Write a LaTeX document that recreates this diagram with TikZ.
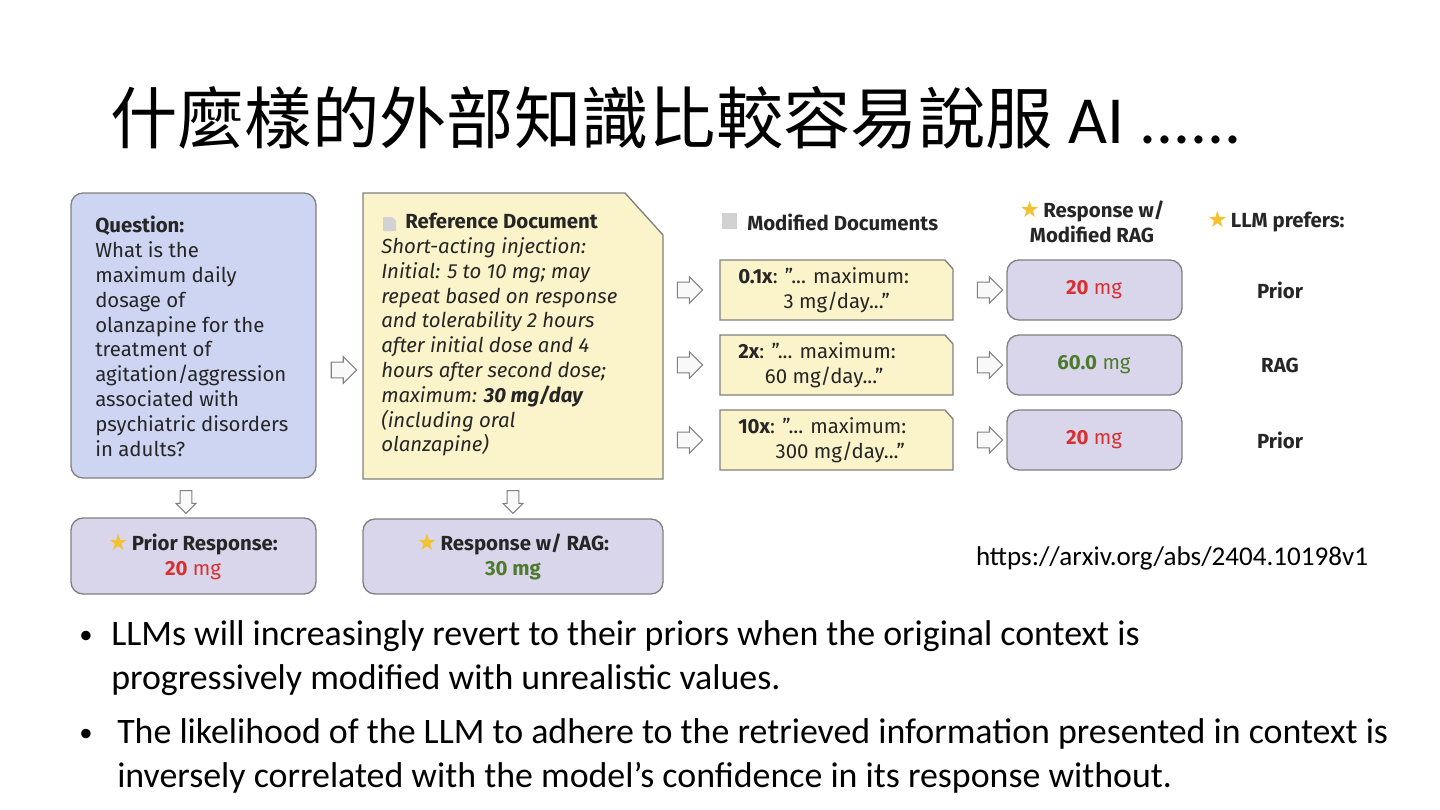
\documentclass[tikz,border=0pt]{standalone}
\usepackage{fontspec}
\setmainfont{Fira Sans}
\newfontfamily\cjk{Noto Sans CJK TC}
\newfontfamily\slide{Carlito}
\newfontfamily\dejavu{DejaVu Sans}
\usetikzlibrary{shapes.arrows}
\definecolor{qblue}{HTML}{CDD5F3}
\definecolor{rpurp}{HTML}{D9D6EC}
\definecolor{dyell}{HTML}{FBF3C9}
\definecolor{bord}{HTML}{808080}
\definecolor{redv}{HTML}{D63030}
\definecolor{greenv}{HTML}{4E7A2E}
\definecolor{starc}{HTML}{F2C230}
\definecolor{txt}{HTML}{262626}
\newcommand{\mystar}{{\dejavu\fontsize{17}{17}\selectfont\textcolor{starc}{★}}}
\tikzset{
  box/.style={draw=bord, line width=1pt, rounded corners=9pt},
  harrow/.style={single arrow, draw=bord, fill=white!95!gray, line width=0.8pt, minimum height=19pt, minimum width=20pt, single arrow head extend=2pt, inner sep=2.5pt},
  dtxt/.style={font=\fontsize{15.3}{18.6}\selectfont, text=txt, inner sep=0pt},
}
\begin{document}
\begin{tikzpicture}[x=0.75pt,y=-0.75pt]
\useasboundingbox (0,0) rectangle (1440,810);
% title
\node[anchor=west, inner sep=0pt, font=\fontsize{50.5}{55}\selectfont] (title) at (110,118) {\cjk 什麼樣的外部知識比較容易說服\slide\ AI ......};
% question box
\draw[box, fill=qblue] (71,193) rectangle (316,478);
\node[dtxt, anchor=north west, align=left] (q) at (95,216) {\textbf{Question:}\\What is the\\maximum daily\\dosage of\\olanzapine for the\\treatment of\\agitation/aggression\\associated with\\psychiatric disorders\\in adults?};
% prior response
\draw[box, fill=rpurp] (71,518) rectangle (316,594);
\node[dtxt, align=center] (pr) at (193,557) {\mystar\,\textbf{Prior Response:}\\\textcolor{redv}{\textbf{20} mg}};
% reference doc
\draw[draw=bord, line width=1pt, fill=dyell] (363,193) -- (625,193) -- (663,235) -- (663,479) -- (363,479) -- cycle;
\fill[gray!35] (383,217) -- (392,217) -- (396,221) -- (396,231) -- (383,231) -- cycle;
\node[dtxt, anchor=north west, align=left] (rd) at (381,213) {\hspace{18pt}\textbf{Reference Document}\\\itshape Short-acting injection:\\\itshape Initial: 5 to 10 mg; may\\\itshape repeat based on response\\\itshape and tolerability 2 hours\\\itshape after initial dose and 4\\\itshape hours after second dose;\\\itshape maximum: \textbf{30 mg/day}\\\itshape (including oral\\\itshape olanzapine)};
% response w/ RAG
\draw[box, fill=rpurp] (363,519) rectangle (663,594);
\node[dtxt, align=center] (rr) at (513,557) {\mystar\,\textbf{Response w/ RAG:}\\\textcolor{greenv}{\textbf{30 mg}}};
% arrows left part
\node[harrow] (a1) at (340,370) {};
\node[harrow, shape border rotate=270, minimum height=17pt, minimum width=15pt] (a2) at (186,499) {};
\node[harrow, shape border rotate=270, minimum height=17pt, minimum width=15pt] (a3) at (513,499) {};
% headers
\fill[gray!35] (722,213) rectangle (737,229);
\node[dtxt, anchor=west] (h1) at (747,222) {\textbf{Modified Documents}};
\node[dtxt, align=center] (h2) at (1092,222) {\mystar\,\textbf{Response w/}\\\textbf{Modified RAG}};
\node[dtxt, anchor=west] (h3) at (1207,222) {\mystar\,\textbf{LLM prefers:}};
% rows
\foreach \y/\m/\n/\r/\c/\p/\ind [count=\i] in {290/0.1x/3/20/redv/Prior/34, 365/2x/60/60.0/greenv/RAG/20, 440/10x/300/20/redv/Prior/28}{
  \draw[draw=bord, line width=1pt, fill=dyell] (720,\y-30) -- (945,\y-30) -- (953,\y-21) -- (953,\y+30) -- (720,\y+30) -- cycle;
  \node[dtxt, anchor=west, align=left] (md\i) at (738,\y) {\textbf{\m}: "... maximum:\\\hspace{\ind pt}\n\ mg/day..."};
  \node[harrow] (ma\i) at (686,\y) {};
  \node[harrow] (mb\i) at (986,\y) {};
  \draw[box, fill=rpurp] (1007,\y-30) rectangle (1182,\y+30);
  \node[dtxt] (rv\i) at (1094,\y) {\textcolor{\c}{\textbf{\r} mg}};
  \node[dtxt] (pf\i) at (1280,\y) {\textbf{\p}};
}
% url
\node[anchor=center, inner sep=0pt, font=\slide\fontsize{20.3}{24}\selectfont] (url) at (1172,558) {https://arxiv.org/abs/2404.10198v1};
% bullets
\begin{scope}[every node/.style={anchor=west, inner sep=0pt, font=\slide\fontsize{26.9}{32.5}\selectfont, align=left}]
\node[font=\slide\fontsize{20}{20}\selectfont] (b1d) at (79,637) {•};
\node (b1) at (111,658) {LLMs will increasingly revert to their priors when the original context is\\progressively modified with unrealistic values.};
\node[font=\slide\fontsize{20}{20}\selectfont] (b2d) at (79,735) {•};
\node (b2) at (117,756) {The likelihood of the LLM to adhere to the retrieved information presented in context is\\inversely correlated with the model’s confidence in its response without.};
\end{scope}
\end{tikzpicture}
\end{document}
